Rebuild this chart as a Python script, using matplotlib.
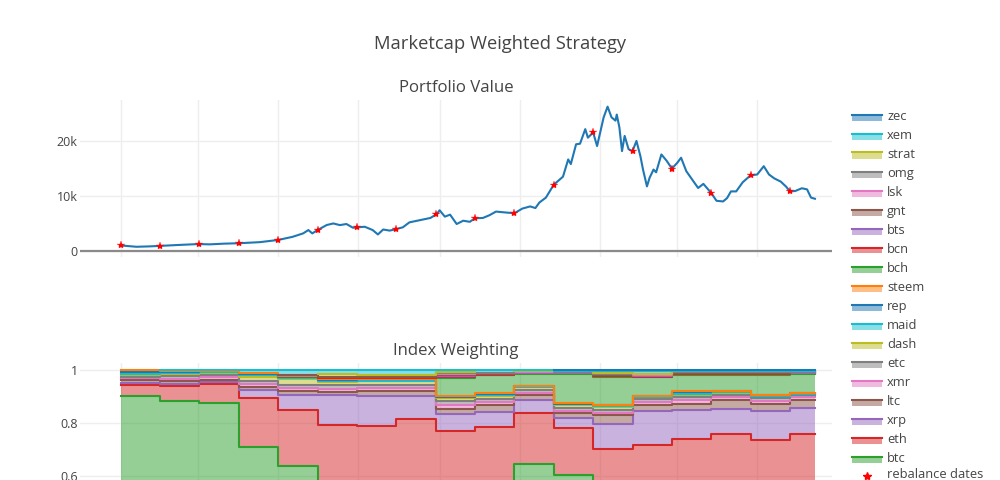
import numpy as np
import pandas as pd
import matplotlib
matplotlib.use("Agg")
import matplotlib.pyplot as plt
from matplotlib.patches import Rectangle
from matplotlib.lines import Line2D

plt.rcParams['font.family'] = ['Open Sans', 'DejaVu Sans']

# ---------------- data ----------------
START = pd.Timestamp('2017-01-01')
END_DAY = 529

# portfolio value (day offset from start, USD)
value_days = [0, 12, 22, 30, 45, 59, 68, 79, 90, 106, 120, 131, 139, 143, 146, 150,
              157, 162, 167, 172, 177, 180, 186, 192, 196, 200, 205, 210, 215, 220,
              228, 236, 241, 243, 247, 251, 256, 261, 266, 270, 276, 281, 286, 293,
              300, 306, 312, 316, 319, 324, 330, 337, 341, 343, 347, 350, 354, 356,
              360, 363, 368, 371, 374, 377, 378, 380, 382, 384, 387, 390, 393, 396,
              398, 401, 403, 406, 408, 412, 416, 420, 424, 427, 431, 436, 440, 444,
              450, 454, 459, 462, 465, 469, 474, 480, 485, 490, 494, 498, 503, 507,
              510, 514, 519, 523, 526, 529]
value_usd = [1000, 760, 830, 920, 1100, 1250, 1200, 1330, 1400, 1600, 2000, 2570, 3190,
             3800, 3190, 3800, 4715, 5000, 4700, 4900, 4220, 4290, 4400, 3800, 3000,
             3900, 3700, 3980, 4300, 5200, 5600, 6000, 6730, 7400, 6240, 6600, 4900,
             5500, 5300, 5950, 6000, 6500, 7160, 7000, 6860, 7700, 8100, 7800, 8800,
             9700, 12050, 13500, 16640, 15800, 19400, 19500, 22150, 20600, 21540,
             19080, 24290, 26240, 24300, 23700, 24800, 22460, 18160, 20920, 18500,
             18160, 20000, 17250, 14800, 11740, 13300, 14800, 14300, 17550, 16400,
             14990, 16000, 16950, 14500, 12800, 11450, 12200, 10530, 9120, 9000, 9600,
             10830, 10830, 12500, 13760, 13900, 15410, 13900, 13200, 12600, 11700,
             10830, 10900, 11400, 11200, 9700, 9490]

rebalance_days = [0, 30, 60, 90, 120, 150, 180, 210, 240, 270, 300, 330, 360, 390,
                  420, 450, 480, 510]
rebalance_values = [1000, 920, 1250, 1400, 2000, 3800, 4290, 3980, 6730, 5950, 6860,
                    12050, 21540, 18160, 14990, 10530, 13760, 10830]

coins = ['btc', 'eth', 'xrp', 'ltc', 'xmr', 'etc', 'dash', 'maid', 'rep', 'steem',
         'bch', 'bcn', 'bts', 'gnt', 'lsk', 'omg', 'strat', 'xem', 'zec']

N = None
w_btc = [.904, .886, .878, .711, .640, .550, .550, .560, .500, .520, .648, .604, .450, .460, .480, .480, .460, .480]
w_eth = [.040, .054, .071, .185, .210, .243, .241, .256, .272, .267, .193, .180, .255, .260, .260, .281, .276, .281]
w_xrp = [.010, .009, .006, .029, .059, .113, .113, .088, .063, .056, .046, .037, .094, .126, .110, .095, .110, .097]
w_ltc = [.009, .010, .010, .013, .013, .013, .017, .017, .021, .025, .019, .017, .032, .025, .025, .031, .029, .029]
w_xmr = [.007, .010, .011, .012, .012, .012, .013, .012, .015, .012, .010, .010, .010, .010, .014, .011, .010, .011]
w_etc = [.007, .009, .006, .010, .012, .013, .012, .012, .013, .011, .010, .010, .010, .010, .010, .010, .010, .010]
w_dash = [.006, .009, .008, .015, .020, .012, .013, .014, .012, .013, .010, .012, .012, .008, .010, .008, .008, .004]
w_maid = [.005, .005, .004, .006, .004, .004, .003, .003, .002, .003, .002, .002, .002, .001, .003, .002, .002, .001]
w_rep = [.006, .004, .003, .005, .004, .005, .004, .004, .003, .004, .002, .003, .003, .002, .005, .003, .002, .002]
w_steem = [.006, .002, .001, .004, .004, .004, .003, .003, .003, .005, .002, .003, .003, .002, .007, .003, .002, .001]
w_bch = [N, N, N, N, N, N, N, N, .069, .066, .046, .110, .104, .071, .060, .060, .075, .072]
w_bcn = [N, N, N, N, N, .004, .004, .004, .002, .002, .002, .002, .004, .002, .002, .002, .002, .002]
w_bts = [N, N, N, N, N, N, N, N, .004, .002, .002, .002, .003, .002, .003, .003, .003, .002]
w_gnt = [N, N, N, N, .004, .004, .003, .003, .003, .002, .001, .001, .002, .002, .002, .002, .002, .001]
w_lsk = [N, N, N, N, N, N, N, N, .004, .002, .002, .001, .002, .002, .002, .002, .002, .001]
w_omg = [N, N, N, N, N, N, N, N, .004, .002, .002, .002, .002, .002, .002, .002, .002, .001]
w_strat = [N, N, N, N, N, .008, .006, .006, .004, N, .001, .001, .002, .002, .002, .002, .002, .003]
w_xem = [N, .002, .002, .010, .018, .015, .018, .018, .006, .008, .002, .002, .007, .010, .001, .001, .001, .001]
w_zec = [N, N, N, N, N, N, N, N, N, N, N, .001, .003, .003, .002, .002, .002, .001]

weights = [w_btc, w_eth, w_xrp, w_ltc, w_xmr, w_etc, w_dash, w_maid, w_rep, w_steem,
           w_bch, w_bcn, w_bts, w_gnt, w_lsk, w_omg, w_strat, w_xem, w_zec]

# ---------------- style ----------------
D3 = ['#1f77b4', '#ff7f0e', '#2ca02c', '#d62728', '#9467bd',
      '#8c564b', '#e377c2', '#7f7f7f', '#bcbd22', '#17becf']
coin_colors = [D3[(i + 2) % 10] for i in range(len(coins))]
TXT = '#444444'
GRID = '#eeeeee'

W_PX, H_PX = 1000, 480
fig = plt.figure(figsize=(10, 4.8), dpi=100)


def fx(px):
    return px / W_PX


def fy(py):
    return 1 - py / H_PX


# axes rectangles (pixels)
L, R = 80, 832
ax1 = fig.add_axes([fx(L), fy(257), fx(R - L), (257 - 100) / H_PX])
ax2_top, ax2_zero = 362.5, 635.5
ax2 = fig.add_axes([fx(L), fy(ax2_zero), fx(R - L), (ax2_zero - ax2_top) / H_PX])

value_dates = START + pd.to_timedelta(value_days, unit='D')
reb_dates = START + pd.to_timedelta(rebalance_days, unit='D')
end_date = START + pd.Timedelta(days=END_DAY)
xmin = START - pd.Timedelta(days=31)
xmax = START + pd.Timedelta(days=542)
grid_dates = pd.date_range('2017-01-01', '2018-05-01', freq='2MS')

for ax in (ax1, ax2):
    ax.set_xlim(xmin, xmax)
    for s in ax.spines.values():
        s.set_visible(False)
    ax.set_xticks(grid_dates)
    ax.set_xticklabels([])
    ax.tick_params(length=0, labelsize=9, labelcolor=TXT, pad=1.5)
    ax.grid(True, color=GRID, lw=1)
    ax.set_axisbelow(True)
    ax.patch.set_alpha(0)

# ---- top: portfolio value ----
ax1.set_ylim(-1100, 27450)
ax1.set_yticks([0, 10000, 20000])
ax1.set_yticklabels(['0', '10k', '20k'])
ax1.axhline(0, color='#8a8a8a', lw=1.6, zorder=1)
ax1.plot(value_dates, value_usd, color=D3[0], lw=1.5, zorder=2)
ax1.plot(reb_dates, rebalance_values, ls='none', marker='*', color='red', ms=6,
         markeredgewidth=0.2, zorder=3)

# ---- bottom: index weighting ----
ax2.set_ylim(0, 1.03)
ax2.set_yticks([0.6, 0.8, 1.0])
ax2.set_yticklabels(['0.6', '0.8', '1'])

Wm = np.array([[np.nan if v is None else v for v in w] for w in weights])
present = ~np.isnan(Wm)
cum = np.cumsum(np.nan_to_num(Wm), axis=0)
lower = np.vstack([np.zeros(Wm.shape[1]), cum[:-1]])
edges = list(reb_dates) + [end_date]


def ext(a):
    return np.append(a, a[-1])


for i, c in enumerate(coins):
    up, lo, m = ext(cum[i]), ext(lower[i]), ext(present[i])
    ax2.fill_between(edges, lo, up, where=m, step='post', color=coin_colors[i],
                     alpha=0.5, lw=0, zorder=1)
for i, c in enumerate(coins):
    up, m = ext(cum[i]), ext(present[i])
    ax2.step(edges, np.where(m, up, np.nan), where='post', color=coin_colors[i],
             lw=1.5, zorder=2)

# ---- titles ----
fig.text(0.5, fy(44), 'Marketcap Weighted Strategy', ha='center', va='center',
         fontsize=13.2, color=TXT)
fig.text(fx((L + R) / 2), fy(88), 'Portfolio Value', ha='center', va='center',
         fontsize=12.1, color=TXT)
fig.text(fx((L + R) / 2), fy(351), 'Index Weighting', ha='center', va='center',
         fontsize=12.1, color=TXT)

# ---- legend (reversed trace order, like plotly stacked) ----
for k, i in enumerate(range(len(coins) - 1, -1, -1)):
    yc = 115 + 19 * k
    fig.add_artist(Rectangle((fx(852), fy(yc + 5.5)), fx(30), 6 / H_PX,
                             transform=fig.transFigure, color=coin_colors[i],
                             alpha=0.5, lw=0))
    fig.add_artist(Line2D([fx(852), fx(882)], [fy(yc - 0.5), fy(yc - 0.5)],
                          transform=fig.transFigure, color=coin_colors[i], lw=1.5))
    fig.text(fx(887), fy(yc + 1.5), coins[i], ha='left', va='center', fontsize=9.3,
             color=TXT)
yc = 115 + 19 * len(coins)
fig.add_artist(Line2D([fx(867)], [fy(yc)], transform=fig.transFigure, ls='none',
                      marker='*', color='red', ms=6))
fig.text(fx(887), fy(yc - 1.5), 'rebalance dates', ha='left', va='center',
         fontsize=9.3, color=TXT)

fig.savefig('out.png', dpi=100)
